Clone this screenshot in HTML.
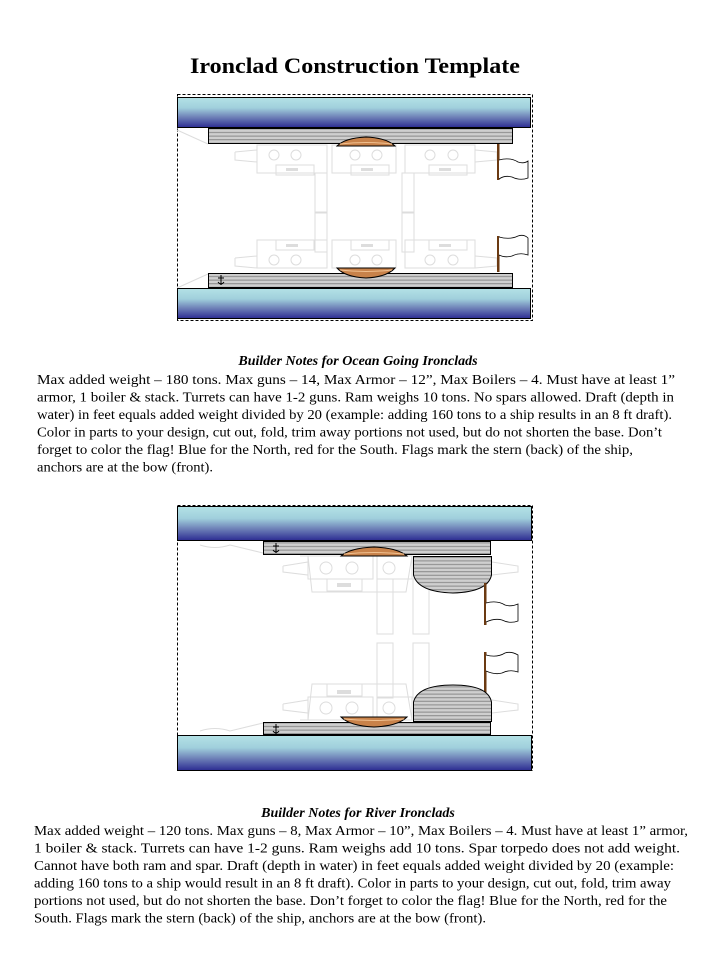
<!DOCTYPE html>
<html><head><meta charset="utf-8"><style>
html,body{margin:0;padding:0;background:#fff;}
svg{display:block;}
text{font-family:"Liberation Serif",serif;fill:#000;}
</style></head><body>
<svg width="719" height="959" viewBox="0 0 719 959" xmlns="http://www.w3.org/2000/svg">
<defs>
<linearGradient id="bl" x1="0" y1="0" x2="0" y2="1">
<stop offset="0" stop-color="#b4e2e6"/><stop offset="0.35" stop-color="#a0cfdc"/><stop offset="0.65" stop-color="#6f82b8"/><stop offset="1" stop-color="#2c2c92"/>
</linearGradient>
<pattern id="st" width="6" height="3.6" patternUnits="userSpaceOnUse">
<rect width="6" height="3.6" fill="#cfcfcf"/><rect y="2.4" width="6" height="1" fill="#8a8a8a"/>
</pattern>
<g id="anc" fill="none" stroke="#000" stroke-width="1"><line x1="0" y1="-5" x2="0" y2="5"/><line x1="-3" y1="-2" x2="3" y2="-2"/><path d="M-3,2 Q0,6 3,2"/></g>
</defs>
<text x="355" y="73" text-anchor="middle" font-size="22" font-weight="bold" textLength="330" lengthAdjust="spacingAndGlyphs">Ironclad Construction Template</text>

<!-- Diagram 1 -->
<rect x="177.5" y="94.5" width="355" height="226" fill="none" stroke="#000" stroke-dasharray="3,2"/>
<g fill="none" stroke="#ddd" stroke-width="1">
<polyline points="177,130 208,144"/>
<polyline points="177,288 208,274"/>
<rect x="257" y="145" width="70" height="28"/><rect x="332" y="145" width="64" height="28"/><rect x="405" y="145" width="70" height="28"/>
<circle cx="274" cy="155" r="5"/><circle cx="296" cy="155" r="5"/><circle cx="355" cy="155" r="5"/><circle cx="377" cy="155" r="5"/><circle cx="430" cy="155" r="5"/><circle cx="453" cy="155" r="5"/>
<rect x="276" y="165" width="38" height="10"/><rect x="351" y="165" width="38" height="10"/><rect x="429" y="165" width="38" height="10"/>
<polyline points="235,152 257,150 257,162 235,160 235,152"/><polyline points="475,150 497,152 497,160 475,162"/>
<rect x="315" y="173" width="12" height="40"/><rect x="402" y="173" width="12" height="40"/>
<rect x="315" y="212" width="12" height="40"/><rect x="402" y="212" width="12" height="40"/>
<rect x="257" y="240" width="70" height="28"/><rect x="332" y="240" width="64" height="28"/><rect x="405" y="240" width="70" height="28"/>
<circle cx="274" cy="260" r="5"/><circle cx="296" cy="260" r="5"/><circle cx="355" cy="260" r="5"/><circle cx="377" cy="260" r="5"/><circle cx="430" cy="260" r="5"/><circle cx="453" cy="260" r="5"/>
<rect x="276" y="240" width="38" height="10"/><rect x="351" y="240" width="38" height="10"/><rect x="429" y="240" width="38" height="10"/>
<polyline points="235,258 257,256 257,268 235,266 235,258"/><polyline points="475,256 497,258 497,266 475,268"/>
</g>
<g fill="#ddd"><rect x="286" y="168" width="12" height="3"/><rect x="361" y="168" width="12" height="3"/><rect x="439" y="168" width="12" height="3"/>
<rect x="286" y="244" width="12" height="3"/><rect x="361" y="244" width="12" height="3"/><rect x="439" y="244" width="12" height="3"/></g>
<rect x="177.5" y="97.5" width="353" height="30" fill="url(#bl)" stroke="#000"/>
<rect x="208.5" y="128.5" width="304" height="15" fill="url(#st)" stroke="#000"/>
<path d="M337,146 Q345,138 366,137 Q387,138 395,146 Z" fill="#c8824a" stroke="#000"/>
<path d="M340,144 Q366,141 392,144" fill="none" stroke="#f0c090" stroke-width="1"/>
<rect x="497" y="144" width="2.5" height="36" fill="#6b3a12"/>
<path d="M499,160 Q510,157 518,162 Q524,164 528,161 L528,178 Q520,181 512,177 Q505,175 499,179" fill="#fff" stroke="#000" stroke-width="0.8"/>
<rect x="208.5" y="273.5" width="304" height="14" fill="url(#st)" stroke="#000"/>
<use href="#anc" x="221" y="280"/>
<path d="M337,268 Q345,277 366,278 Q387,277 395,268 Z" fill="#c8824a" stroke="#000"/>
<path d="M340,270 Q366,273 392,270" fill="none" stroke="#f0c090" stroke-width="1"/>
<rect x="497" y="236" width="2.5" height="36" fill="#6b3a12"/>
<path d="M499,237 Q510,240 518,236 Q524,234 528,238 L528,255 Q520,252 512,256 Q505,258 499,255" fill="#fff" stroke="#000" stroke-width="0.8"/>
<rect x="177.5" y="288.5" width="353" height="30" fill="url(#bl)" stroke="#000"/>

<text x="358" y="365" text-anchor="middle" font-size="14" font-weight="bold" font-style="italic">Builder Notes for Ocean Going Ironclads</text>
<g font-size="14">
<text x="37" y="384" textLength="638" lengthAdjust="spacingAndGlyphs">Max added weight – 180 tons.  Max guns – 14, Max Armor – 12”, Max Boilers – 4.  Must have at least 1”</text>
<text x="37" y="401.5" textLength="637" lengthAdjust="spacingAndGlyphs">armor, 1 boiler &amp; stack.  Turrets can have 1-2 guns.  Ram weighs 10 tons.  No spars allowed.  Draft (depth in</text>
<text x="37" y="419" textLength="635" lengthAdjust="spacingAndGlyphs">water) in feet equals added weight divided by 20 (example: adding 160 tons to a ship results in an 8 ft draft).</text>
<text x="37" y="436.5" textLength="625" lengthAdjust="spacingAndGlyphs">Color in parts to your design, cut out, fold, trim away portions not used, but do not shorten the base.  Don’t</text>
<text x="37" y="454" textLength="596" lengthAdjust="spacingAndGlyphs">forget to color the flag!  Blue for the North, red for the South.  Flags mark the stern (back) of the ship,</text>
<text x="37" y="471.5" textLength="176" lengthAdjust="spacingAndGlyphs">anchors are at the bow (front).</text>
</g>

<!-- Diagram 2 -->
<rect x="177.5" y="505.5" width="355" height="265" fill="none" stroke="#000" stroke-dasharray="3,2"/>
<g fill="none" stroke="#ddd">
<path d="M200,545 Q215,550 230,545 L263,553"/><path d="M200,731 Q215,726 230,731 L263,723"/>
<rect x="308" y="556" width="65" height="23"/><polyline points="300,556 308,556 312,592 406,592 412,556"/>
<rect x="327" y="579" width="35" height="12"/><rect x="377" y="556" width="35" height="23"/>
<circle cx="326" cy="568" r="6"/><circle cx="352" cy="568" r="6"/><circle cx="389" cy="568" r="6"/>
<polyline points="283,566 308,562 308,575 283,572 283,566"/><polyline points="492,562 518,566 518,572 492,575"/>
<rect x="377" y="579" width="16" height="55"/><rect x="413" y="579" width="16" height="55"/>
<rect x="377" y="643" width="16" height="55"/><rect x="413" y="643" width="16" height="55"/>
<rect x="308" y="697" width="65" height="23"/><polyline points="300,720 308,720 312,684 406,684 412,720"/>
<rect x="327" y="684" width="35" height="12"/><rect x="377" y="697" width="35" height="23"/>
<circle cx="326" cy="708" r="6"/><circle cx="352" cy="708" r="6"/><circle cx="389" cy="708" r="6"/>
<polyline points="283,704 308,700 308,713 283,710 283,704"/><polyline points="492,700 518,704 518,710 492,713"/>
</g>
<g fill="#ddd"><rect x="337" y="583" width="14" height="4"/><rect x="337" y="690" width="14" height="4"/></g>
<rect x="177.5" y="506.5" width="354" height="34" fill="url(#bl)" stroke="#000"/>
<rect x="263.5" y="541.5" width="227" height="13" fill="url(#st)" stroke="#000"/>
<use href="#anc" x="276" y="548"/>
<path d="M341,556 Q350,548 374,547 Q398,548 407,556 Z" fill="#c8824a" stroke="#000"/>
<path d="M344,554 Q374,551 404,554" fill="none" stroke="#f0c090" stroke-width="1"/>
<path d="M413.5,556.5 L491.5,556.5 L491.5,575 Q488,592 453,593 Q418,592 413.5,575 Z" fill="url(#st)" stroke="#000"/>
<rect x="484" y="583" width="2.5" height="42" fill="#6b3a12"/>
<path d="M486,603 Q497,600 505,605 Q511,607 518,604 L518,621 Q510,624 502,620 Q495,618 486,622" fill="#fff" stroke="#000" stroke-width="0.8"/>
<rect x="484" y="652" width="2.5" height="42" fill="#6b3a12"/>
<path d="M486,655 Q497,658 505,653 Q511,651 518,655 L518,672 Q510,669 502,673 Q495,675 486,671" fill="#fff" stroke="#000" stroke-width="0.8"/>
<path d="M413.5,721.5 L491.5,721.5 L491.5,702 Q488,685 453,685 Q418,685 413.5,702 Z" fill="url(#st)" stroke="#000"/>
<rect x="263.5" y="722.5" width="227" height="12" fill="url(#st)" stroke="#000"/>
<use href="#anc" x="276" y="729"/>
<path d="M341,717 Q350,726 374,727 Q398,726 407,717 Z" fill="#c8824a" stroke="#000"/>
<path d="M344,719 Q374,722 404,719" fill="none" stroke="#f0c090" stroke-width="1"/>
<rect x="177.5" y="735.5" width="354" height="35" fill="url(#bl)" stroke="#000"/>

<text x="358" y="817" text-anchor="middle" font-size="14" font-weight="bold" font-style="italic">Builder Notes for River Ironclads</text>
<g font-size="14">
<text x="34" y="835" textLength="654" lengthAdjust="spacingAndGlyphs">Max added weight – 120 tons.  Max guns – 8, Max Armor – 10”, Max Boilers – 4.  Must have at least 1” armor,</text>
<text x="34" y="852.5" textLength="646" lengthAdjust="spacingAndGlyphs">1 boiler &amp; stack.  Turrets can have 1-2 guns.  Ram weighs add 10 tons.  Spar torpedo does not add weight.</text>
<text x="34" y="870" textLength="640" lengthAdjust="spacingAndGlyphs">Cannot have both ram and spar. Draft (depth in water) in feet equals added weight divided by 20 (example:</text>
<text x="34" y="887.5" textLength="637" lengthAdjust="spacingAndGlyphs">adding 160 tons to a ship would result in an 8 ft draft).  Color in parts to your design, cut out, fold, trim away</text>
<text x="34" y="905" textLength="633" lengthAdjust="spacingAndGlyphs">portions not used, but do not shorten the base.  Don’t forget to color the flag!  Blue for the North, red for the</text>
<text x="34" y="922.5" textLength="452" lengthAdjust="spacingAndGlyphs">South.  Flags mark the stern (back) of the ship, anchors are at the bow (front).</text>
</g>
</svg>
</body></html>
